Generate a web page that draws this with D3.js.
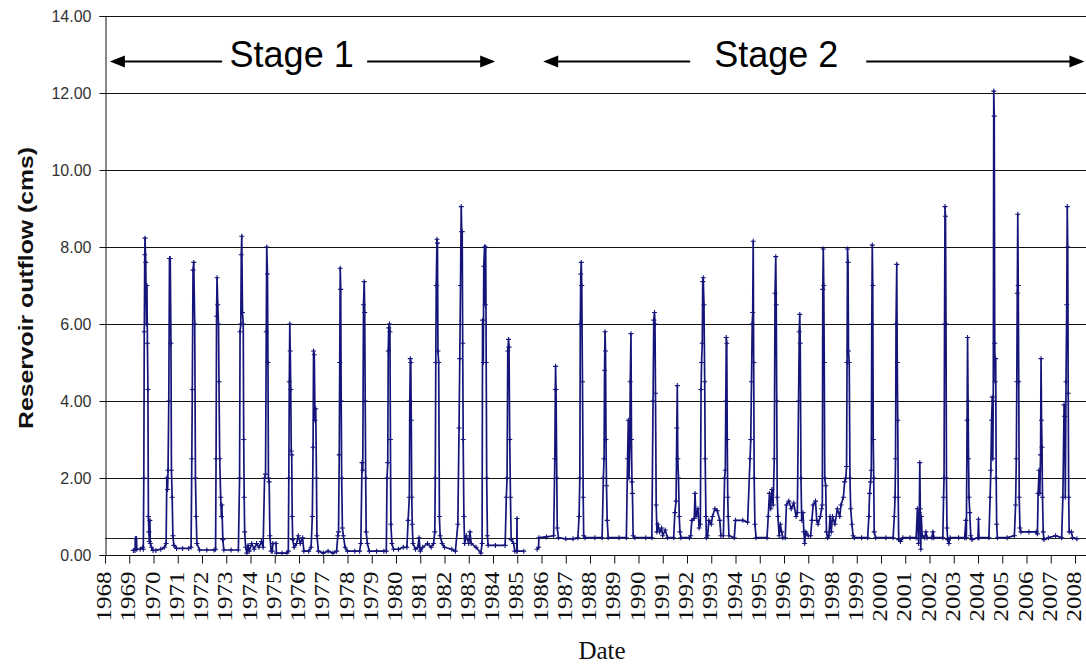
<!DOCTYPE html>
<html><head><meta charset="utf-8">
<script src="https://cdn.jsdelivr.net/npm/d3@7"></script>
<style>body{margin:0;background:#fff}svg{display:block}</style>
</head><body><svg id="c" width="1086" height="667"></svg>
<script>
// ---------- data ----------
const yearTicks = [1968,1969,1970,1971,1972,1973,1974,1975,1976,1977,1978,1979,1980,1981,1982,1983,1984,1985,1986,1987,1988,1989,1990,1991,1992,1993,1994,1995,1996,1997,1998,1999,2000,2001,2002,2003,2004,2005,2006,2007,2008];
const valueTicks = [0,2,4,6,8,10,12,14];
const referenceFlow = 0.43;
const stageNames = ["Stage 1","Stage 2"];
const stageFrom = [1968.2, 1986.07];
const stageGapStart = [1972.83, 1992.13];
const stageGapEnd = [1978.81, 1999.39];
const stageTo = [1984.09, 2008.39];

// [decimal year, outflow cms]
const stage1Flow = [
[1969.17,0.12],[1969.24,0.12],[1969.25,0.43],[1969.3,0.43],[1969.31,0.15],[1969.45,0.15],[1969.55,0.2],
[1969.58,0.15],[1969.6,2.0],[1969.62,5.8],[1969.64,7.8],[1969.65,8.23],[1969.68,7.6],[1969.71,6.0],[1969.73,7.0],[1969.75,5.5],[1969.77,4.3],[1969.79,1.0],[1969.81,0.6],[1969.83,0.35],[1969.85,0.9],[1969.87,0.3],[1969.92,0.2],[1969.98,0.12],[1970.1,0.12],[1970.3,0.15],[1970.45,0.2],
[1970.52,0.3],[1970.55,2.0],[1970.58,1.7],[1970.6,2.2],[1970.63,4.0],[1970.66,7.7],[1970.69,7.7],[1970.72,5.5],[1970.74,2.2],[1970.77,1.5],[1970.8,0.5],[1970.84,0.25],[1970.95,0.17],[1971.2,0.17],[1971.45,0.17],
[1971.55,0.2],[1971.58,2.5],[1971.6,4.3],[1971.63,7.4],[1971.66,7.6],[1971.7,6.0],[1971.73,2.0],[1971.76,1.0],[1971.79,0.3],[1971.9,0.13],[1972.2,0.13],[1972.5,0.13],
[1972.56,0.15],[1972.58,2.5],[1972.6,6.2],[1972.62,7.2],[1972.65,6.5],[1972.68,6.0],[1972.7,4.5],[1972.73,2.5],[1972.77,1.5],[1972.8,1.0],[1972.82,1.3],[1972.86,0.4],[1972.9,0.13],[1973.2,0.13],[1973.5,0.13],
[1973.55,2.0],[1973.57,5.8],[1973.6,6.0],[1973.62,7.8],[1973.64,8.28],[1973.67,6.3],[1973.7,6.0],[1973.72,3.0],[1973.74,1.5],[1973.76,0.6],[1973.8,0.2],[1973.85,0.05],[1973.9,0.25],[1973.95,0.1],[1974.05,0.3],[1974.15,0.15],[1974.25,0.3],[1974.35,0.2],[1974.45,0.35],[1974.52,0.2],
[1974.58,2.0],[1974.62,2.1],[1974.65,5.8],[1974.67,8.0],[1974.7,7.3],[1974.72,5.0],[1974.74,2.0],[1974.77,1.9],[1974.8,0.5],[1974.85,0.1],[1974.9,0.1],[1974.92,0.3],[1975.05,0.3],[1975.07,0.05],[1975.3,0.05],[1975.5,0.05],
[1975.56,0.1],[1975.58,2.0],[1975.6,4.5],[1975.62,6.0],[1975.64,5.3],[1975.66,4.3],[1975.68,2.7],[1975.7,2.6],[1975.72,1.0],[1975.74,0.4],[1975.8,0.2],[1975.9,0.3],[1975.97,0.5],[1976.05,0.3],[1976.15,0.45],[1976.2,0.1],[1976.4,0.1],
[1976.5,0.2],[1976.55,1.0],[1976.58,2.8],[1976.6,5.3],[1976.63,5.2],[1976.66,3.5],[1976.69,3.8],[1976.72,2.0],[1976.74,0.5],[1976.8,0.1],[1977.0,0.05],[1977.2,0.1],[1977.4,0.05],[1977.55,0.1],
[1977.6,0.5],[1977.63,0.6],[1977.66,2.6],[1977.68,5.0],[1977.7,7.45],[1977.72,6.9],[1977.74,4.0],[1977.76,2.0],[1977.79,0.7],[1977.83,0.5],[1977.9,0.2],[1978.0,0.1],[1978.3,0.1],[1978.5,0.1],
[1978.55,0.3],[1978.6,2.4],[1978.63,2.2],[1978.66,6.5],[1978.69,7.1],[1978.71,6.3],[1978.73,4.0],[1978.75,2.0],[1978.77,0.6],[1978.82,0.3],[1978.9,0.1],[1979.2,0.1],[1979.5,0.1],
[1979.6,0.1],[1979.63,2.0],[1979.66,2.4],[1979.68,5.3],[1979.7,5.9],[1979.73,6.0],[1979.75,5.8],[1979.77,3.0],[1979.79,0.8],[1979.83,0.3],[1979.9,0.15],[1980.1,0.15],[1980.3,0.2],
[1980.45,0.2],[1980.5,0.9],[1980.55,1.5],[1980.57,4.0],[1980.59,5.1],[1980.61,5.0],[1980.63,3.5],[1980.65,1.5],[1980.67,0.8],[1980.7,0.3],[1980.8,0.15],[1980.9,0.2],[1980.95,0.45],[1981.0,0.1],[1981.1,0.2],[1981.3,0.3],[1981.45,0.2],
[1981.55,0.3],[1981.6,0.6],[1981.62,2.0],[1981.64,5.0],[1981.66,7.0],[1981.69,8.2],[1981.71,8.1],[1981.73,5.3],[1981.76,5.0],[1981.79,1.0],[1981.82,0.5],[1981.9,0.3],[1982.0,0.2],[1982.3,0.15],[1982.45,0.1],
[1982.55,0.8],[1982.6,3.3],[1982.63,5.1],[1982.66,7.0],[1982.69,9.05],[1982.71,8.4],[1982.73,8.4],[1982.75,5.5],[1982.77,3.0],[1982.8,1.0],[1982.83,0.3],[1982.9,0.5],[1983.0,0.3],[1983.05,0.6],[1983.1,0.3],[1983.3,0.2],[1983.5,0.05],
[1983.55,0.3],[1983.57,6.1],[1983.6,5.0],[1983.62,7.5],[1983.65,8.0],[1983.68,6.5],[1983.7,8.0],[1983.72,5.0],[1983.74,2.0],[1983.77,0.5],[1983.8,0.25],[1984.1,0.25],[1984.5,0.25],
[1984.55,1.5],[1984.58,2.0],[1984.61,5.3],[1984.64,5.6],[1984.66,5.4],[1984.69,3.0],[1984.72,1.5],[1984.75,0.4],[1984.85,0.3],[1984.9,0.1],[1984.98,0.1],[1984.99,0.95],[1985.0,0.1],[1985.27,0.1]
];
const stage2Flow = [
[1985.82,0.15],[1985.88,0.2],[1985.89,0.45],[1986.2,0.47],[1986.5,0.5],
[1986.55,2.5],[1986.57,4.3],[1986.58,4.9],[1986.6,4.3],[1986.63,2.0],[1986.65,0.7],[1986.7,0.45],[1987.0,0.42],[1987.3,0.42],[1987.5,0.45],
[1987.55,1.0],[1987.58,2.0],[1987.6,6.0],[1987.62,7.3],[1987.64,7.6],[1987.66,7.0],[1987.69,4.5],[1987.72,1.5],[1987.74,0.5],[1987.8,0.45],[1988.2,0.45],[1988.5,0.45],
[1988.55,2.0],[1988.58,2.5],[1988.6,4.8],[1988.62,5.8],[1988.64,5.3],[1988.66,3.0],[1988.68,1.8],[1988.71,0.9],[1988.75,0.45],[1989.2,0.45],[1989.5,0.45],
[1989.55,2.5],[1989.58,3.5],[1989.61,2.0],[1989.64,2.8],[1989.66,4.5],[1989.69,5.75],[1989.71,3.0],[1989.73,1.9],[1989.75,1.6],[1989.78,0.5],[1989.85,0.45],[1990.3,0.45],[1990.55,0.45],
[1990.6,4.0],[1990.63,6.1],[1990.66,6.3],[1990.68,6.0],[1990.7,4.2],[1990.73,1.3],[1990.76,0.6],[1990.8,0.8],[1990.87,0.6],[1990.95,0.7],[1991.0,0.5],[1991.1,0.65],[1991.2,0.45],[1991.45,0.45],
[1991.5,1.1],[1991.55,1.4],[1991.58,3.3],[1991.6,4.4],[1991.62,2.5],[1991.65,2.0],[1991.68,1.0],[1991.71,0.6],[1991.75,0.45],[1992.1,0.45],[1992.15,0.5],[1992.2,0.9],[1992.3,0.95],[1992.33,1.6],[1992.37,1.0],[1992.45,1.2],[1992.5,0.7],[1992.55,0.8],
[1992.58,4.3],[1992.6,5.0],[1992.63,5.5],[1992.65,7.1],[1992.67,7.2],[1992.7,6.5],[1992.73,4.5],[1992.75,2.5],[1992.78,1.0],[1992.8,0.45],[1992.85,0.5],[1992.9,0.9],[1993.0,0.8],[1993.05,1.0],[1993.15,1.2],[1993.25,1.15],[1993.35,0.9],[1993.4,0.5],[1993.5,0.5],
[1993.55,2.0],[1993.58,2.2],[1993.6,4.0],[1993.62,5.65],[1993.64,5.5],[1993.66,3.0],[1993.68,1.5],[1993.7,1.0],[1993.73,0.5],[1993.95,0.45],[1994.0,0.9],[1994.3,0.9],[1994.5,0.85],
[1994.6,2.5],[1994.63,3.0],[1994.66,4.5],[1994.69,6.0],[1994.71,6.3],[1994.73,8.15],[1994.75,5.0],[1994.77,2.0],[1994.8,0.8],[1994.85,0.45],[1995.3,0.45],
[1995.35,1.0],[1995.4,1.6],[1995.45,1.2],[1995.5,1.7],[1995.55,1.3],[1995.6,2.5],[1995.63,6.8],[1995.66,7.75],[1995.68,6.5],[1995.7,4.0],[1995.72,1.5],[1995.75,1.0],[1995.8,0.5],[1995.85,0.8],[1995.9,0.6],[1995.95,0.45],
[1996.05,0.45],[1996.1,1.3],[1996.2,1.4],[1996.3,1.2],[1996.4,1.35],[1996.5,1.0],[1996.55,1.1],[1996.6,4.0],[1996.63,5.8],[1996.65,6.25],[1996.67,5.5],[1996.7,2.0],[1996.73,0.9],[1996.78,1.1],[1996.82,0.6],[1996.85,0.3],[1996.9,0.6],[1997.0,0.5],
[1997.1,0.5],[1997.15,0.9],[1997.2,1.3],[1997.3,1.4],[1997.35,0.9],[1997.4,0.8],[1997.5,1.0],[1997.55,1.2],[1997.58,1.3],[1997.6,6.9],[1997.62,7.95],[1997.64,7.0],[1997.66,5.0],[1997.68,2.0],[1997.72,1.8],[1997.75,0.6],[1997.8,0.45],
[1997.85,0.5],[1997.9,1.0],[1997.95,0.6],[1998.0,1.0],[1998.1,0.8],[1998.2,1.2],[1998.3,1.0],[1998.35,1.3],[1998.45,1.5],[1998.5,1.9],[1998.55,2.0],
[1998.58,2.3],[1998.6,5.0],[1998.62,7.95],[1998.64,7.6],[1998.66,5.3],[1998.69,5.0],[1998.72,2.0],[1998.75,1.2],[1998.8,0.8],[1998.85,0.5],[1998.9,0.45],[1999.2,0.45],[1999.45,0.45],
[1999.5,1.0],[1999.53,1.6],[1999.57,1.9],[1999.6,2.2],[1999.62,6.0],[1999.64,8.05],[1999.66,7.0],[1999.68,3.0],[1999.7,2.0],[1999.72,0.6],[1999.78,0.45],[2000.2,0.45],[2000.5,0.45],
[2000.55,1.0],[2000.58,1.5],[2000.6,2.5],[2000.62,6.0],[2000.65,7.55],[2000.67,5.0],[2000.69,3.5],[2000.71,1.5],[2000.73,0.4],[2000.8,0.35],[2000.9,0.45],[2001.2,0.45],[2001.45,0.45],
[2001.5,1.2],[2001.55,0.3],[2001.58,1.1],[2001.6,2.4],[2001.62,1.2],[2001.64,0.15],[2001.66,1.0],[2001.7,0.5],[2001.8,0.45],[2001.85,0.6],[2001.9,0.45],[2002.1,0.45],[2002.14,0.6],[2002.18,0.45],[2002.55,0.45],
[2002.58,1.5],[2002.6,2.0],[2002.62,6.0],[2002.64,9.05],[2002.66,8.8],[2002.68,6.0],[2002.7,2.0],[2002.72,0.7],[2002.75,0.4],[2002.8,0.3],[2002.85,0.45],[2003.2,0.45],[2003.45,0.45],
[2003.5,0.9],[2003.52,0.45],[2003.55,3.5],[2003.57,5.65],[2003.59,4.0],[2003.61,2.5],[2003.63,1.5],[2003.66,1.1],[2003.7,0.5],[2003.75,0.4],[2004.0,0.45],[2004.02,0.93],[2004.04,0.45],[2004.45,0.45],
[2004.5,1.5],[2004.53,2.2],[2004.56,3.5],[2004.59,4.1],[2004.61,2.5],[2004.63,4.0],[2004.65,12.05],[2004.67,11.4],[2004.69,5.5],[2004.71,4.5],[2004.73,5.1],[2004.75,2.0],[2004.77,0.8],[2004.8,0.45],[2005.2,0.45],[2005.5,0.5],
[2005.55,1.3],[2005.58,2.5],[2005.6,4.5],[2005.62,6.8],[2005.64,8.85],[2005.66,7.0],[2005.68,4.5],[2005.7,1.5],[2005.73,0.7],[2005.77,0.6],[2006.1,0.6],[2006.4,0.6],
[2006.45,0.55],[2006.48,1.6],[2006.52,2.2],[2006.55,1.6],[2006.58,2.6],[2006.6,5.1],[2006.62,3.5],[2006.64,2.8],[2006.66,1.5],[2006.69,0.6],[2006.72,0.4],[2006.9,0.45],[2007.2,0.5],[2007.45,0.45],
[2007.5,1.5],[2007.55,3.9],[2007.58,3.6],[2007.6,1.5],[2007.63,4.5],[2007.66,6.5],[2007.68,9.05],[2007.7,8.0],[2007.72,4.2],[2007.74,1.5],[2007.76,0.6],[2007.85,0.6],[2007.9,0.45],[2008.08,0.42]
];

// ---------- chart ----------
const plotLeft = 105, plotRight = 1086, plotTop = 16, plotBottom = 555;
const svg = d3.select("#c");
const x = d3.scaleLinear().domain([1968, 2008]).range([105, 1075]);
const y = d3.scaleLinear().domain([0, 14]).range([plotBottom, plotTop]);
const navy = "#14147a";

// gridlines
svg.append("g").selectAll("line").data(valueTicks.filter(d => d > 0)).join("line")
  .attr("x1", plotLeft).attr("x2", plotRight)
  .attr("y1", d => Math.round(y(d)) + 0.5).attr("y2", d => Math.round(y(d)) + 0.5)
  .attr("stroke", "#111").attr("stroke-width", 1);

// reference line
svg.append("line").attr("x1", plotLeft).attr("x2", plotRight)
  .attr("y1", Math.round(y(referenceFlow)) + 0.5).attr("y2", Math.round(y(referenceFlow)) + 0.5)
  .attr("stroke", "#222").attr("stroke-width", 1);

// y axis
const yAxis = svg.append("g").attr("transform", `translate(${plotLeft + 0.5},0)`)
  .call(d3.axisLeft(y).tickValues(valueTicks).tickFormat(d3.format(".2f")).tickSize(6).tickPadding(8));
yAxis.select(".domain").attr("stroke", "#111");
yAxis.selectAll(".tick line").attr("stroke", "#111");
yAxis.selectAll("text").attr("font-family", "Liberation Sans, Arial, sans-serif").attr("font-size", 16).attr("fill", "#333");

// x axis
const xAxis = svg.append("g").attr("transform", `translate(0,${plotBottom + 0.5})`)
  .call(d3.axisBottom(x).tickValues(yearTicks).tickFormat(d3.format("d")).tickSize(8).tickSizeOuter(0));
xAxis.select(".domain").attr("stroke", "#111").attr("d", `M${plotLeft},0H${plotRight}`);
xAxis.selectAll(".tick line").attr("stroke", "#111");
xAxis.selectAll("text")
  .attr("font-family", "Liberation Serif, Times New Roman, serif").attr("font-size", 22).attr("fill", "#111")
  .attr("text-anchor", "end").attr("dy", null).attr("y", null)
  .attr("textLength", 50).attr("lengthAdjust", "spacingAndGlyphs")
  .attr("transform", "translate(5.5,16) rotate(-90)");

// series
const line = d3.line().x(d => x(d[0])).y(d => y(d[1]));
const allFlow = [stage1Flow, stage2Flow];
svg.append("g").selectAll("path").data(allFlow).join("path")
  .attr("d", line).attr("fill", "none").attr("stroke", navy).attr("stroke-width", 1.7)
  .attr("stroke-linejoin", "round");
const markerPath = allFlow.flat().map(d => {
  const px = x(d[0]), py = y(d[1]);
  return `M${px - 2.5},${py}h5M${px},${py - 2.5}v5`;
}).join("");
svg.append("path").attr("d", markerPath).attr("fill", "none").attr("stroke", navy).attr("stroke-width", 1.1);

// axis titles
svg.append("text").attr("transform", "translate(33,288) rotate(-90)")
  .attr("text-anchor", "middle").attr("font-family", "Liberation Sans, Arial, sans-serif")
  .attr("font-weight", "bold").attr("font-size", 21).attr("fill", "#111")
  .attr("textLength", 282).attr("lengthAdjust", "spacingAndGlyphs")
  .text("Reservoir outflow (cms)");
svg.append("text").attr("x", 602).attr("y", 659).attr("text-anchor", "middle")
  .attr("font-family", "Liberation Serif, Times New Roman, serif").attr("font-size", 25).attr("fill", "#111")
  .text("Date");

// stage annotations
const arrowY = 61.5;
const ann = svg.append("g");
stageNames.forEach((name, i) => {
  const a = x(stageFrom[i]), g1 = x(stageGapStart[i]), g2 = x(stageGapEnd[i]), b = x(stageTo[i]);
  ann.append("line").attr("x1", a + 10).attr("x2", g1).attr("y1", arrowY).attr("y2", arrowY).attr("stroke", "#000").attr("stroke-width", 2);
  ann.append("line").attr("x1", g2).attr("x2", b - 10).attr("y1", arrowY).attr("y2", arrowY).attr("stroke", "#000").attr("stroke-width", 2);
  ann.append("path").attr("d", `M${a},${arrowY}L${a + 15},${arrowY - 6}L${a + 15},${arrowY + 6}Z`).attr("fill", "#000");
  ann.append("path").attr("d", `M${b},${arrowY}L${b - 15},${arrowY - 6}L${b - 15},${arrowY + 6}Z`).attr("fill", "#000");
  ann.append("text").attr("x", (g1 + g2) / 2 - (i === 0 ? 3 : 2)).attr("y", 67).attr("text-anchor", "middle")
    .attr("font-family", "Liberation Sans, Arial, sans-serif").attr("font-size", 36).attr("fill", "#000")
    .text(name);
});
</script></body></html>
